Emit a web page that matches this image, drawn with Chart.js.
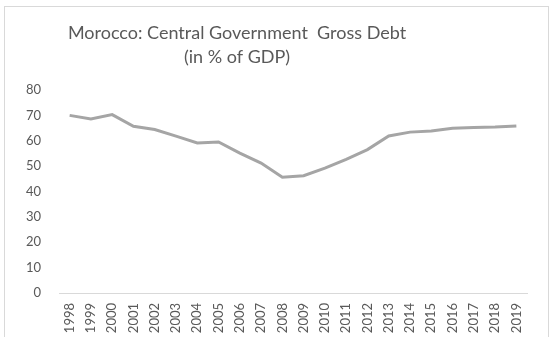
<!DOCTYPE html>
<html>
<head>
<meta charset="utf-8">
<script src="https://cdn.jsdelivr.net/npm/chart.js@4"></script>
<style>
  html, body { margin: 0; padding: 0; background: #ffffff; }
  canvas { display: block; }
</style>
</head>
<body>
<canvas id="grafica" width="553" height="337"></canvas>
<script>
// Deuda bruta del gobierno central de Marruecos (% del PIB)
const years = ['1998', '1999', '2000', '2001', '2002', '2003', '2004', '2005', '2006', '2007', '2008',
               '2009', '2010', '2011', '2012', '2013', '2014', '2015', '2016', '2017', '2018', '2019'];
const debtPct = [70.0, 68.6, 70.3, 65.7, 64.4, 61.8, 59.1, 59.5, 55.1, 51.2, 45.6,
                 46.2, 49.2, 52.7, 56.5, 61.9, 63.4, 63.8, 64.9, 65.2, 65.4, 65.8];
const titleLines = ['Morocco: Central Government  Gross Debt', '(in % of GDP)'];

const textColor = '#595959';
const fontFamily = 'Lato, "Open Sans", sans-serif';

// marco gris claro y título en dos líneas
const marcoYTitulo = {
    id: 'marcoYTitulo',
    beforeDraw(chart) {
        const c = chart.ctx;
        c.save();
        c.strokeStyle = '#d9d9d9';
        c.lineWidth = 1;
        c.strokeRect(4.5, 6.5, 544, 340);
        c.restore();
    },
    afterDraw(chart) {
        const c = chart.ctx;
        c.save();
        c.fillStyle = textColor;
        c.font = '18px ' + fontFamily;
        c.textAlign = 'center';
        c.textBaseline = 'middle';
        c.fillText(titleLines[0], 237, 33);
        c.fillText(titleLines[1], 237, 57);
        c.restore();
    }
};

const ctx = document.getElementById('grafica').getContext('2d');
new Chart(ctx, {
    type: 'line',
    data: {
        labels: years,
        datasets: [{
            data: debtPct,
            borderColor: '#a5a5a5',
            borderWidth: 3,
            pointRadius: 0,
            tension: 0,
            fill: false
        }]
    },
    options: {
        responsive: false,
        animation: false,
        layout: { padding: { top: 90, right: 26, bottom: 0, left: 0 } },
        plugins: {
            legend: { display: false },
            tooltip: { enabled: false }
        },
        scales: {
            x: {
                offset: true,
                grid: { display: false, drawTicks: false, offset: true },
                border: { display: true, color: '#d9d9d9', width: 1 },
                ticks: {
                    color: textColor,
                    font: { size: 13, family: fontFamily },
                    minRotation: 90,
                    maxRotation: 90,
                    padding: 10,
                    autoSkip: false
                },
                afterFit(scale) { scale.height = 44; }
            },
            y: {
                min: 0,
                max: 80,
                grid: { display: false, drawTicks: false },
                border: { display: false },
                ticks: {
                    stepSize: 10,
                    color: textColor,
                    font: { size: 13, family: fontFamily },
                    padding: 18
                },
                afterFit(scale) { scale.width = 59; }
            }
        }
    },
    plugins: [marcoYTitulo]
});
</script>
</body>
</html>
